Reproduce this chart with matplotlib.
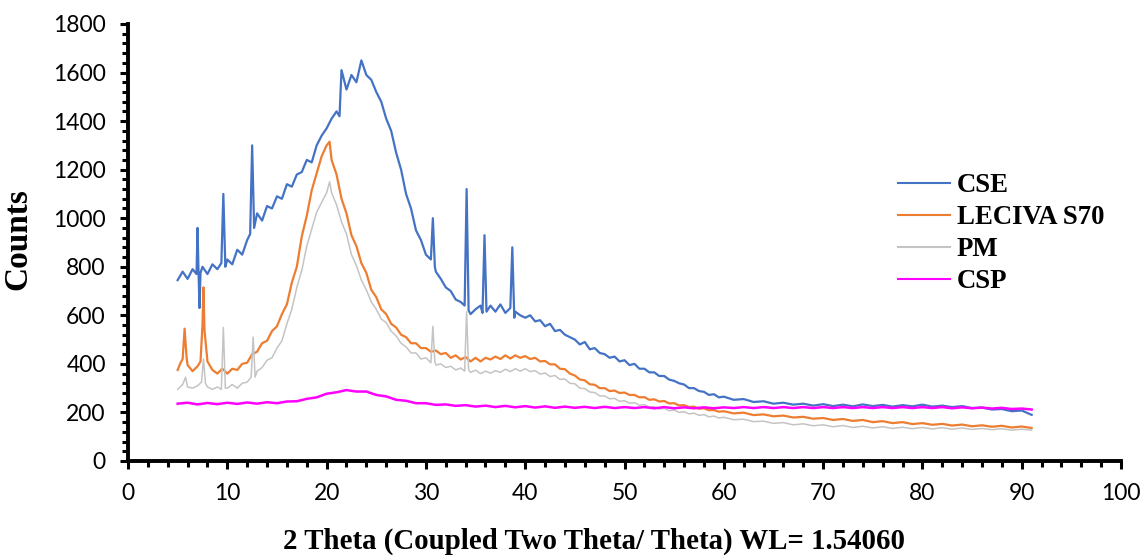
"""Powder XRD overlay: CSE, LECIVA S70, physical mixture and CSP."""
import matplotlib
matplotlib.use("Agg")
import matplotlib.pyplot as plt
from matplotlib.ticker import MultipleLocator

# 2-theta positions (deg) and counts for each pattern
cse_tt = [5.0, 5.5, 6.0, 6.5, 6.9, 7.0, 7.1, 7.2, 7.3, 7.5, 8.0, 8.5, 9.0, 9.4, 9.6, 9.8,
          10.0, 10.5, 11.0, 11.5, 12.0, 12.3, 12.5, 12.7, 13.0, 13.5, 14.0, 14.5, 15.0, 15.5,
          16.0, 16.5, 17.0, 17.5, 18.0, 18.5, 19.0, 19.5, 20.0, 20.5, 21.0, 21.3, 21.5, 22.0,
          22.5, 23.0, 23.5, 24.0, 24.5, 25.0, 25.5, 26.0, 26.5, 27.0, 27.5, 28.0, 28.5, 29.0,
          29.5, 30.0, 30.5, 30.7, 30.9, 31.0, 31.5, 32.0, 32.5, 33.0, 33.5, 33.9, 34.1, 34.3,
          34.5, 35.0, 35.5, 35.7, 35.9, 36.1, 36.5, 37.0, 37.5, 38.0, 38.5, 38.7, 38.9, 39.0,
          39.5, 40.0, 40.5, 41.0, 41.5, 42.0, 42.5, 43.0, 43.5, 44.0, 44.5, 45.0, 45.5, 46.0,
          46.5, 47.0, 47.5, 48.0, 48.5, 49.0, 49.5, 50.0, 50.5, 51.0, 51.5, 52.0, 52.5, 53.0,
          53.5, 54.0, 54.5, 55.0, 55.5, 56.0, 56.5, 57.0, 57.5, 58.0, 58.5, 59.0, 59.5, 60.0,
          61, 62, 63, 64, 65, 66, 67, 68, 69, 70, 71, 72, 73, 74, 75, 76, 77, 78, 79, 80,
          81, 82, 83, 84, 85, 86, 87, 88, 89, 90, 91]
cse_counts = [745, 780, 750, 790, 770, 960, 780, 630, 775, 800, 770, 810, 790, 815, 1100, 800,
              830, 810, 870, 850, 910, 935, 1300, 960, 1020, 990, 1050, 1040, 1090, 1080,
              1140, 1130, 1180, 1190, 1240, 1230, 1300, 1340, 1370, 1410, 1440, 1420, 1610, 1530,
              1590, 1560, 1650, 1590, 1570, 1520, 1480, 1410, 1360, 1270, 1200, 1100, 1040, 950,
              910, 850, 830, 1000, 800, 780, 750, 715, 700, 665, 655, 640, 1120, 620,
              605, 625, 640, 610, 930, 615, 640, 615, 645, 610, 630, 880, 590, 615,
              600, 590, 600, 575, 580, 555, 565, 535, 540, 520, 510, 500, 480, 490,
              460, 465, 445, 440, 425, 430, 410, 415, 395, 400, 380, 380, 365, 365,
              350, 350, 335, 330, 320, 315, 300, 300, 288, 285, 272, 275, 262, 265,
              252, 255, 243, 246, 236, 240, 232, 236, 228, 234, 226, 232, 225, 233, 226, 231,
              224, 230, 225, 232, 224, 228, 222, 226, 218, 220, 212, 214, 205, 208, 190]

lec_tt = [5.0, 5.3, 5.5, 5.7, 5.9, 6.0, 6.5, 7.0, 7.3, 7.5, 7.6, 7.7, 8.0, 8.5, 9.0, 9.5,
          10.0, 10.5, 11.0, 11.5, 12.0, 12.5, 13.0, 13.5, 14.0, 14.5, 15.0, 15.5, 16.0, 16.5,
          17.0, 17.5, 18.0, 18.5, 19.0, 19.5, 20.0, 20.3, 20.5, 21.0, 21.5, 22.0, 22.5, 23.0,
          23.5, 24.0, 24.5, 25.0, 25.5, 26.0, 26.5, 27.0, 27.5, 28.0, 28.5, 29.0, 29.5, 30.0,
          30.5, 31.0, 31.5, 32.0, 32.5, 33.0, 33.5, 34.0, 34.5, 35.0, 35.5, 36.0, 36.5, 37.0,
          37.5, 38.0, 38.5, 39.0, 39.5, 40.0, 40.5, 41.0, 41.5, 42.0, 42.5, 43.0, 43.5, 44.0,
          44.5, 45.0, 45.5, 46.0, 46.5, 47.0, 47.5, 48.0, 48.5, 49.0, 49.5, 50.0, 50.5, 51.0,
          51.5, 52.0, 52.5, 53.0, 53.5, 54.0, 54.5, 55.0, 55.5, 56.0, 56.5, 57.0, 57.5, 58.0,
          58.5, 59.0, 59.5, 60.0,
          61, 62, 63, 64, 65, 66, 67, 68, 69, 70, 71, 72, 73, 74, 75, 76, 77, 78, 79, 80,
          81, 82, 83, 84, 85, 86, 87, 88, 89, 90, 91]
lec_counts = [375, 405, 420, 545, 425, 395, 370, 390, 410, 560, 715, 540, 410, 375, 360, 380,
              360, 380, 375, 400, 405, 440, 450, 485, 495, 535, 555, 605, 645, 735,
              800, 925, 1010, 1115, 1185, 1255, 1300, 1315, 1240, 1180, 1080, 1020, 930, 885,
              815, 775, 705, 675, 625, 605, 565, 550, 520, 510, 485, 485, 465, 465,
              450, 455, 440, 445, 425, 435, 418, 428, 410, 425, 410, 425, 418, 430,
              420, 435, 422, 435, 425, 432, 420, 425, 410, 412, 398, 398, 380, 378,
              360, 352, 336, 332, 316, 314, 300, 300, 288, 290, 280, 282, 272, 272,
              262, 263, 252, 254, 245, 247, 237, 238, 229, 230, 222, 224, 215, 217,
              209, 210, 203, 205,
              196, 199, 189, 192, 184, 187, 179, 182, 174, 177, 169, 173, 165, 169, 160, 164,
              156, 160, 152, 156, 149, 153, 146, 150, 143, 147, 141, 145, 138, 142, 136]

pm_tt = [5.0, 5.5, 5.8, 6.0, 6.5, 7.0, 7.4, 7.6, 7.8, 8.0, 8.5, 9.0, 9.4, 9.6, 9.8,
         10.0, 10.5, 11.0, 11.5, 12.0, 12.4, 12.6, 12.8, 13.0, 13.5, 14.0, 14.5, 15.0, 15.5,
         16.0, 16.5, 17.0, 17.5, 18.0, 18.5, 19.0, 19.5, 20.0, 20.3, 20.5, 21.0, 21.5, 22.0,
         22.5, 23.0, 23.5, 24.0, 24.5, 25.0, 25.5, 26.0, 26.5, 27.0, 27.5, 28.0, 28.5, 29.0,
         29.5, 30.0, 30.5, 30.7, 30.9, 31.0, 31.5, 32.0, 32.5, 33.0, 33.5, 33.9, 34.1, 34.3,
         34.5, 35.0, 35.5, 36.0, 36.5, 37.0, 37.5, 38.0, 38.5, 39.0, 39.5, 40.0, 40.5, 41.0,
         41.5, 42.0, 42.5, 43.0, 43.5, 44.0, 44.5, 45.0, 45.5, 46.0, 46.5, 47.0, 47.5, 48.0,
         48.5, 49.0, 49.5, 50.0, 50.5, 51.0, 51.5, 52.0, 52.5, 53.0, 53.5, 54.0, 54.5, 55.0,
         55.5, 56.0, 56.5, 57.0, 57.5, 58.0, 58.5, 59.0, 59.5, 60.0,
         61, 62, 63, 64, 65, 66, 67, 68, 69, 70, 71, 72, 73, 74, 75, 76, 77, 78, 79, 80,
         81, 82, 83, 84, 85, 86, 87, 88, 89, 90, 91]
pm_counts = [295, 315, 345, 305, 300, 310, 325, 420, 320, 305, 295, 305, 295, 550, 300,
             300, 315, 300, 320, 325, 345, 510, 345, 370, 385, 415, 425, 465, 495,
             565, 625, 715, 785, 885, 955, 1025, 1065, 1105, 1150, 1105, 1055, 985, 935,
             850, 805, 745, 705, 655, 625, 585, 570, 535, 515, 485, 470, 445, 445,
             420, 425, 405, 555, 410, 395, 400, 385, 390, 375, 383, 370, 615, 375,
             365, 374, 360, 370, 362, 372, 365, 378, 368, 380, 370, 380, 368, 372,
             358, 362, 348, 352, 336, 338, 320, 318, 300, 298, 284, 282, 268, 268,
             256, 258, 246, 248, 238, 240, 230, 232, 222, 224, 214, 217, 207, 210,
             200, 203, 194, 197, 188, 191, 182, 185, 177, 180,
             170, 172, 162, 164, 155, 158, 149, 153, 145, 149, 141, 146, 138, 143, 136, 141,
             134, 139, 133, 138, 132, 137, 131, 136, 130, 134, 129, 133, 127, 131, 127]

csp_tt = [5, 6, 7, 8, 9, 10, 11, 12, 13, 14, 15, 16, 17, 18, 19, 20, 21, 22, 23, 24, 25,
          26, 27, 28, 29, 30, 31, 32, 33, 34, 35, 36, 37, 38, 39, 40, 41, 42, 43, 44, 45,
          46, 47, 48, 49, 50, 51, 52, 53, 54, 55, 56, 57, 58, 59, 60, 61, 62, 63, 64, 65,
          66, 67, 68, 69, 70, 71, 72, 73, 74, 75, 76, 77, 78, 79, 80, 81, 82, 83, 84, 85,
          86, 87, 88, 89, 90, 91]
csp_counts = [236, 240, 233, 239, 234, 240, 235, 241, 236, 242, 238, 245, 246, 256, 262, 277,
              283, 292, 286, 286, 272, 266, 252, 248, 238, 238, 231, 233, 227, 230, 224,
              228, 222, 227, 221, 226, 220, 225, 219, 224, 219, 223, 218, 223, 218, 222,
              218, 222, 217, 222, 217, 221, 217, 221, 217, 221, 218, 222, 218, 222, 218,
              222, 218, 222, 218, 222, 218, 222, 218, 222, 218, 222, 218, 222, 218, 222,
              218, 222, 217, 221, 217, 220, 216, 219, 214, 216, 212]

SERIES = [
    ("CSE", cse_tt, cse_counts, "#4472C4", 1.6),
    ("LECIVA S70", lec_tt, lec_counts, "#ED7D31", 1.6),
    ("PM", pm_tt, pm_counts, "#C4C4C4", 1.1),
    ("CSP", csp_tt, csp_counts, "#FF00FF", 1.8),
]

SERIF_BOLD = dict(family="Liberation Serif", weight="bold")

fig = plt.figure(figsize=(11.44, 5.55), dpi=100)
ax = fig.add_axes([0.1119, 0.1694, 0.868, 0.7874])

for name, tt, counts, color, lw in SERIES:
    ax.plot(tt, counts, color=color, linewidth=lw, label=name)

ax.set_xlim(0, 100)
ax.set_ylim(0, 1800)
ax.xaxis.set_major_locator(MultipleLocator(10))
ax.xaxis.set_minor_locator(MultipleLocator(2))
ax.yaxis.set_major_locator(MultipleLocator(200))
ax.yaxis.set_minor_locator(MultipleLocator(40))

for side in ("top", "right"):
    ax.spines[side].set_visible(False)
for side in ("left", "bottom"):
    ax.spines[side].set_linewidth(2.8)
    ax.spines[side].set_color("black")

ax.tick_params(which="major", direction="out", length=6, width=2.2, pad=10,
               labelsize=16.5, colors="black")
ax.tick_params(which="minor", direction="out", length=4, width=2.2)
for lab in ax.get_xticklabels() + ax.get_yticklabels():
    lab.set_fontfamily("Lato")

ax.set_xlabel("2 Theta (Coupled Two Theta/ Theta) WL= 1.54060", fontsize=20.8, **SERIF_BOLD)
ax.xaxis.set_label_coords(0.469, -0.152)
ax.set_ylabel("Counts", fontsize=24, **SERIF_BOLD)
ax.yaxis.set_label_coords(-0.0957, 0.508)

leg = ax.legend(loc="center left", bbox_to_anchor=(898 / 1144, 1 - 233.5 / 555),
                bbox_transform=fig.transFigure, frameon=False, borderpad=0,
                borderaxespad=0, handlelength=1.95, handletextpad=0.25,
                labelspacing=0.26, prop=dict(family="Liberation Serif", weight="bold", size=19.3))
for line in leg.get_lines():
    line.set_linewidth(1.5)

fig.savefig("out.png", dpi=100)
plt.close(fig)
